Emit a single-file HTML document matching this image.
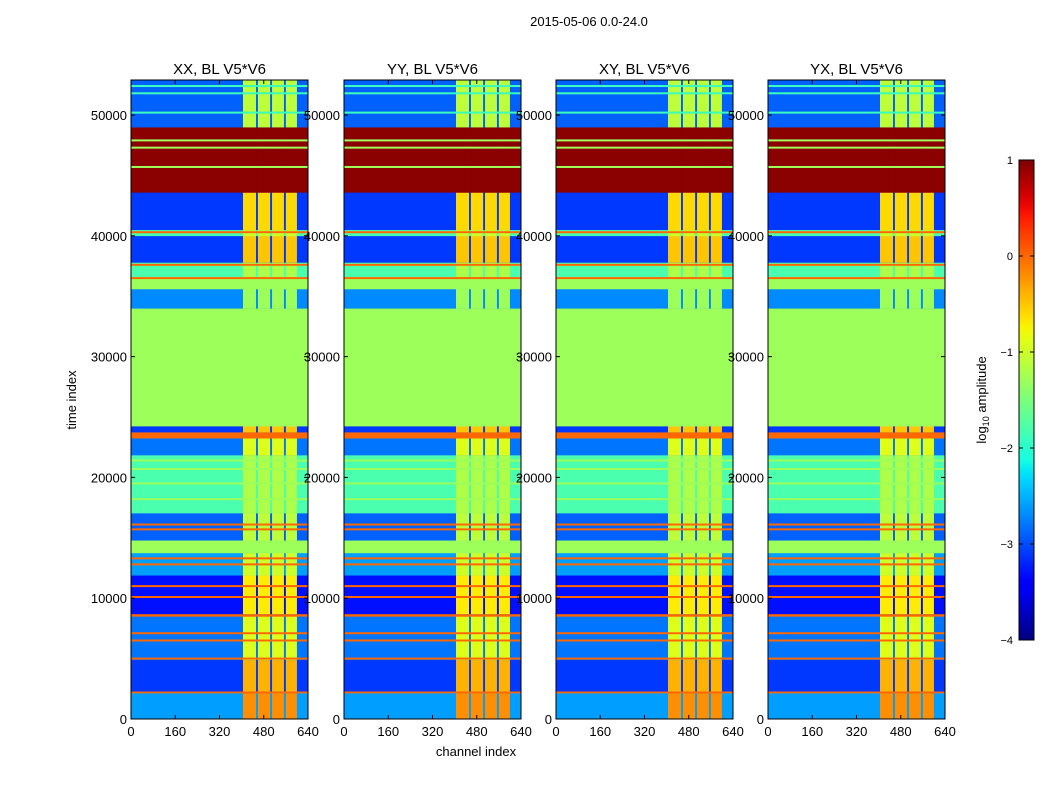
<!DOCTYPE html>
<html><head><meta charset="utf-8">
<style>
body{margin:0;background:#fff;}
svg text{font-family:"Liberation Sans",sans-serif;fill:#000;}
</style></head>
<body>
<svg id="fig" width="1050" height="800" viewBox="0 0 1050 800" xmlns="http://www.w3.org/2000/svg">
<rect width="1050" height="800" fill="#fff"/>
<text x="589" y="26" font-size="13" text-anchor="middle">2015-05-06 0.0-24.0</text>
<text x="0" y="0" font-size="13" text-anchor="middle" transform="translate(76,400) rotate(-90)">time index</text>
<text x="476" y="756" font-size="13" text-anchor="middle">channel index</text>
<g id="panels"></g>
<g id="cbar"></g>
</svg>
<script>
const titles=["XX, BL V5*V6","YY, BL V5*V6","XY, BL V5*V6","YX, BL V5*V6"];
const xTicks=[0,160,320,480,640];
const yTicks=[0,10000,20000,30000,40000,50000];
// time bands: start, end (time index), background log amplitude, channel-column log amplitude
const bandStart=[0,2150,2300,4900,8500,8700,11900,13750,14800,17050,21850,23250,23750,24250,34000,35600,36600,37800,40000,40500,43600,49000];
const bandEnd=[2150,2300,4900,8500,8700,11900,13750,14800,17050,21850,23250,23750,24250,34000,35600,36600,37800,40000,40500,43600,49000,52900];
const bandBg=[-2.6,0.0,-3.1,-2.8,0.0,-3.3,-2.6,-1.3,-2.9,-1.8,-2.8,0.0,-3.1,-1.3,-2.7,-1.3,-1.8,-3.1,-1.8,-3.1,0.95,-2.9];
const bandCol=[-0.2,0.0,-0.4,-0.9,0.0,-0.7,-1.0,-1.3,-1.1,-1.2,-0.9,0.0,-0.5,-1.3,-1.3,-1.3,-1.2,-0.5,-1.0,-0.6,0.95,-1.1];
// thin horizontal lines: time, value
const lineT=[5000,6500,7100,10100,11000,12800,13300,15700,16100,18200,19500,20700,21400,36500,37600,40300,45700,47300,47900,50200,51800,52400];
const lineV=[0.0,0.0,0.0,0.0,0.0,0.0,0.0,0.0,0.0,-1.3,-1.3,-1.3,-1.3,0.0,0.0,0.0,-1.3,-1.3,-1.3,-1.9,-1.9,-1.9];
// channel columns with strong signal
const colStart=[405,459,510,560];
const colEnd=[452,503,553,600];
const panelX=[131,344,556,768];
const W=177,Y0=80,Y1=719,TMAX=52900,CMAX=640;
function interp(n,pts){for(let i=1;i<pts.length;i++){if(n<=pts[i][0]){const a=pts[i-1],b=pts[i];return a[1]+(b[1]-a[1])*(n-a[0])/(b[0]-a[0]);}}return pts[pts.length-1][1];}
function jet(v){const n=Math.max(0,Math.min(1,(v+4)/5));
 const r=interp(n,[[0,0],[0.35,0],[0.66,1],[0.89,1],[1,0.5]]);
 const g=interp(n,[[0,0],[0.125,0],[0.375,1],[0.64,1],[0.91,0],[1,0]]);
 const b=interp(n,[[0,0.5],[0.11,1],[0.34,1],[0.65,0],[1,0]]);
 return `rgb(${Math.round(r*255)},${Math.round(g*255)},${Math.round(b*255)})`;}
const NS="http://www.w3.org/2000/svg";
function el(tag,attrs,parent){const e=document.createElementNS(NS,tag);for(const k in attrs)e.setAttribute(k,attrs[k]);parent.appendChild(e);return e;}
const root=document.getElementById('panels');
panelX.forEach((px,pi)=>{
 const xs=c=>px+c/CMAX*W, ys=t=>Y1-t/TMAX*(Y1-Y0);
 const g=el('g',{},root);
 
 
 for(let i=0;i<bandStart.length;i++){
  const y=ys(bandEnd[i]),h=ys(bandStart[i])-y;
  const r=el('rect',{x:px,y:y,width:W,height:h+0.3,fill:jet(bandBg[i])},g);
  
  
  for(let j=0;j<colStart.length;j++){
   const c=el('rect',{x:xs(colStart[j]),y:y,width:xs(colEnd[j])-xs(colStart[j]),height:h+0.3,fill:jet(bandCol[i])},g);
   
   
  }
 }
 for(let i=0;i<lineT.length;i++){
  const l=el('rect',{x:px,y:ys(lineT[i])-1,width:W,height:2,fill:jet(lineV[i])},g);
  
  
 }
 const fr=el('rect',{x:px,y:Y0,width:W,height:Y1-Y0,fill:'none',stroke:'#000','stroke-width':1},g);
 
 
 const tt=el('text',{x:px+W/2,y:74,'font-size':15,'text-anchor':'middle'},g);tt.textContent=titles[pi];
 
 
 xTicks.forEach(v=>{const x=xs(v);
  el('line',{x1:x,x2:x,y1:Y1,y2:Y1-4,stroke:'#000'},g);el('line',{x1:x,x2:x,y1:Y0,y2:Y0+4,stroke:'#000'},g);
  const t=el('text',{x:x,y:Y1+17,'font-size':13,'text-anchor':'middle'},g);t.textContent=v;
  
  });
 yTicks.forEach(v=>{const y=ys(v);
  el('line',{x1:px,x2:px+4,y1:y,y2:y,stroke:'#000'},g);el('line',{x1:px+W,x2:px+W-4,y1:y,y2:y,stroke:'#000'},g);
  const t=el('text',{x:px-4,y:y+5,'font-size':13,'text-anchor':'end'},g);t.textContent=v;
  
  });
});
// colorbar
const cb=document.getElementById('cbar');
const defs=el('defs',{},cb);const lg=el('linearGradient',{id:'jetg',x1:0,y1:1,x2:0,y2:0},defs);
for(let k=0;k<=40;k++){const v=-4+5*k/40;el('stop',{offset:k/40,'stop-color':jet(v)},lg);}
el('rect',{x:1019,y:160,width:15,height:480,fill:'url(#jetg)',stroke:'#000','stroke-width':1},cb);
const cbTicks=[1,0,-1,-2,-3,-4];
cbTicks.forEach(v=>{const y=640-(v+4)/5*480;
 el('line',{x1:1019,x2:1023,y1:y,y2:y,stroke:'#000'},cb);el('line',{x1:1030,x2:1034,y1:y,y2:y,stroke:'#000'},cb);
 const t=el('text',{x:1013,y:y+4,'font-size':11,'text-anchor':'end'},cb);t.textContent=v<0?'\u2212'+(-v):v;
 
 });
const cl=el('text',{'font-size':13,'text-anchor':'middle',transform:'translate(986,400) rotate(-90)'},cb);


cl.innerHTML='log<tspan font-size="9" dy="3">10</tspan><tspan dy="-3"> amplitude</tspan>';
</script>
</body></html>
